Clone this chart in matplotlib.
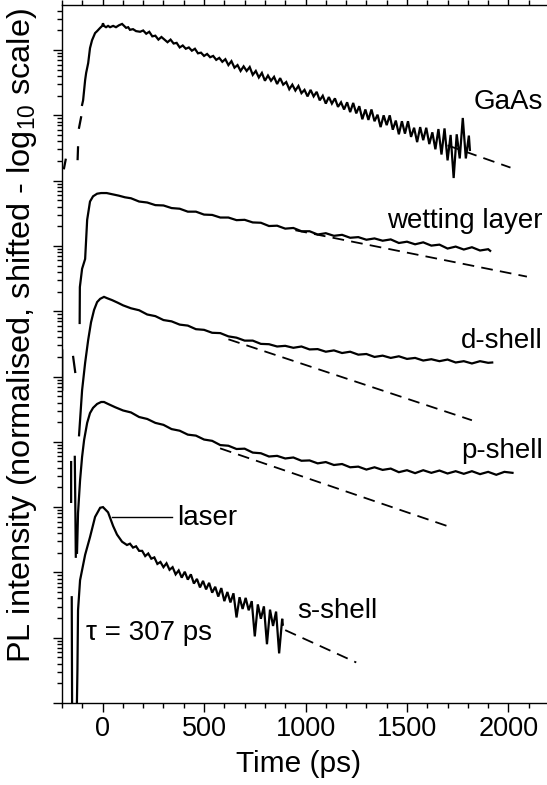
"""Time-resolved PL decay traces (GaAs, wetting layer, QD shells) on a shifted log scale."""

import numpy as np
import matplotlib

matplotlib.use("Agg")
import matplotlib.pyplot as plt
from matplotlib.ticker import LogLocator, MultipleLocator, NullFormatter

plt.rcParams["font.family"] = ["Liberation Sans", "DejaVu Sans"]
plt.rcParams["mathtext.fontset"] = "custom"
plt.rcParams["mathtext.rm"] = "Liberation Sans"
plt.rcParams["mathtext.default"] = "regular"

nan = np.nan

# ---- traces: time (ps) and log10 of shifted intensity; nan splits segments ----
gaas_t = [
    -190, -182, nan, -123, -121, nan, -116, -106, nan,
    -101, -96, -86, -81, -71, -62, -52, -37, -27, -12, -2, 2, 7, 17, 27, 37,
    52, 66, 81, 96, 106, 116, 126, 135, 150, 165, 185,
    200, 215, 230, 245, 260, 275, 290, 305, 320, 335, 350, 365, 380, 395,
    410, 425, 440, 455, 470, 485, 500, 515, 530, 545, 560, 575, 590,
    605, 620, 635, 650, 665, 680, 695, 710, 725, 740, 755, 770, 785, 800,
    815, 830, 845, 860, 875, 890, 905, 920, 935, 950, 965, 980, 995,
    1010, 1025, 1040, 1055, 1070, 1085, 1100, 1115, 1130, 1145, 1160,
    1175, 1190, 1205, 1220, 1235, 1250, 1265, 1280, 1295, 1310, 1325,
    1340, 1355, 1370, 1385, 1400, 1415, 1430, 1445, 1460, 1475, 1490,
    1505, 1520, 1535, 1550, 1565, 1580, 1595, 1610, 1625, 1640, 1655,
    1670, 1685, 1700, 1715, 1730, 1745, 1760, 1775, 1790, 1805, 1810,
]
gaas_log = [
    8.19, 8.32, nan, 8.33, 8.51, nan, 8.81, 8.97, nan,
    9.16, 9.23, 9.54, 9.65, 9.80, 10.03, 10.15, 10.26, 10.29, 10.34, 10.37,
    10.41, 10.37, 10.35, 10.37, 10.35, 10.37, 10.35, 10.38, 10.40, 10.37,
    10.34, 10.35, 10.31, 10.32, 10.29, 10.28,
    10.30, 10.25, 10.28, 10.21, 10.22, 10.16, 10.20, 10.16, 10.12, 10.16,
    10.10, 10.11, 10.04, 10.07, 10.02, 10.04, 9.99, 10.02, 9.95, 9.96,
    9.91, 9.94, 9.89, 9.91, 9.85, 9.88, 9.82,
    9.86, 9.77, 9.83, 9.73, 9.77, 9.68, 9.75, 9.68, 9.74, 9.62, 9.68, 9.58,
    9.65, 9.53, 9.61, 9.53, 9.59, 9.48, 9.57, 9.47, 9.51, 9.40, 9.47, 9.38,
    9.45, 9.34, 9.39, 9.29, 9.39, 9.29, 9.36, 9.23, 9.30, 9.18, 9.28, 9.18,
    9.26, 9.13, 9.20, 9.09,
    9.20, 9.05, 9.19, 9.03, 9.14, 8.94, 9.09, 8.93, 9.09, 8.91, 9.01, 8.82,
    9.00, 8.85, 9.00, 8.78, 8.92, 8.71, 8.91, 8.72, 8.91, 8.67, 8.81, 8.59,
    8.82, 8.62, 8.81, 8.56, 8.74, 8.48,
    8.79, 8.40, 8.80, 8.31, 8.70, 8.04, 8.71, 8.34, 8.96, 8.34, 8.69, 8.47,
]

wetting_t = [
    -113, -112, -101, -86, -76, -62, -47, -27, -7, 20, 50, 80, 110,
    140, 180, 220, 260, 300, 340, 380, 420, 460, 500, 540, 580, 620, 660,
    700, 740, 780, 820, 860, 900, 940, 980, 1020, 1060, 1100, 1140, 1180,
    1220, 1260, 1300, 1340, 1380, 1420, 1460, 1500, 1540, 1580, 1620,
    1660, 1700, 1740, 1780, 1820, 1860, 1900, 1910,
]
wetting_log = [
    5.82, 6.37, 6.65, 6.80, 7.40, 7.68, 7.76, 7.80, 7.81, 7.81, 7.79, 7.77,
    7.745,
    7.730, 7.680, 7.665, 7.625, 7.620, 7.580, 7.570, 7.525, 7.525, 7.480,
    7.475, 7.435, 7.435, 7.395, 7.400, 7.360, 7.355, 7.305, 7.310, 7.265,
    7.275, 7.225, 7.225, 7.175, 7.195, 7.155, 7.170, 7.125, 7.135, 7.095,
    7.115, 7.080, 7.100, 7.045, 7.065, 7.025, 7.055, 7.005, 7.020, 6.960,
    6.990, 6.945, 6.980, 6.930, 6.950, 6.925,
]

dshell_t = [
    -199, -199, nan, -145, -135, nan,
    -116, -111, -101, -86, -71, -57, -42, -27, -12, 7, 22, 47, 75, 101,
    140, 180, 220, 260, 300, 340, 380, 420, 460, 500, 540, 580, 620, 660,
    700, 740, 780, 820, 860, 900, 940, 980, 1020, 1060, 1100, 1140, 1180,
    1220, 1260, 1300, 1340, 1380, 1420, 1460, 1500, 1540, 1580, 1620,
    1660, 1700, 1740, 1780, 1820, 1860, 1900, 1920,
]
dshell_log = [
    5.40, 4.80, nan, 5.30, 5.07, nan,
    4.10, 4.33, 4.79, 5.21, 5.56, 5.83, 6.02, 6.14, 6.19, 6.22, 6.20, 6.17,
    6.13, 6.09,
    6.045, 6.015, 5.950, 5.925, 5.865, 5.845, 5.795, 5.780, 5.725, 5.715,
    5.670, 5.665, 5.615, 5.595, 5.550, 5.550, 5.500, 5.495, 5.460, 5.470,
    5.440, 5.460, 5.415, 5.420, 5.380, 5.400, 5.360, 5.380, 5.335, 5.345,
    5.300, 5.320, 5.285, 5.310, 5.270, 5.285, 5.245, 5.265, 5.235, 5.260,
    5.215, 5.235, 5.200, 5.235, 5.210, 5.215,
]

pshell_t = [
    -155, -155, nan, -137, -134, -132, nan,
    -126, -121, -111, -101, -91, -76, -62, -47, -27, -7, 7, 27, 62, 101,
    140, 180, 220, 260, 300, 340, 380, 420, 460, 500, 540, 580, 620, 660,
    700, 740, 780, 820, 860, 900, 940, 980, 1020, 1060, 1100, 1140, 1180,
    1220, 1260, 1300, 1340, 1380, 1420, 1460, 1500, 1540, 1580, 1620,
    1660, 1700, 1740, 1780, 1820, 1860, 1900, 1940, 1980, 2020,
]
pshell_log = [
    3.69, 3.08, nan, 3.77, 2.90, 2.24, nan,
    2.30, 2.91, 3.41, 3.77, 4.03, 4.29, 4.44, 4.52, 4.58, 4.61, 4.61, 4.58,
    4.53, 4.48,
    4.450, 4.380, 4.350, 4.290, 4.260, 4.195, 4.170, 4.110, 4.095, 4.035,
    4.015, 3.950, 3.940, 3.890, 3.895, 3.835, 3.825, 3.775, 3.785, 3.745,
    3.760, 3.710, 3.715, 3.670, 3.690, 3.645, 3.660, 3.610, 3.620, 3.575,
    3.610, 3.570, 3.590, 3.535, 3.565, 3.520, 3.565, 3.525, 3.560, 3.515,
    3.550, 3.510, 3.550, 3.505, 3.540, 3.495, 3.540, 3.525,
]

sshell_t = [
    -152, -150, nan,
    -128, -124, -121, -111, -86, -62, -37, -12, 2, 27, 52, 71, 96, 120,
    135, 150, 165, 180, 195, 210, 225, 240, 255, 270, 285, 300, 315, 330,
    345, 360, 375, 390, 405, 420, 435, 450, 465, 480, 495, 510, 525, 540,
    555, 570, 585, 600, 615, 630, 645, 660, 675, 690, 705, 720, 735, 750,
    765, 780, 795, 810, 825, 840, 855, 870, 885, 888,
]
sshell_log = [
    1.62, -0.30, nan,
    -0.30, 0.50, 1.42, 1.88, 2.27, 2.54, 2.85, 2.99, 3.00, 2.92, 2.71, 2.58,
    2.47, 2.42,
    2.44, 2.38, 2.40, 2.33, 2.33, 2.25, 2.29, 2.21, 2.23, 2.13, 2.16, 2.08,
    2.14, 2.04, 2.08, 1.97, 2.03, 1.92, 2.01, 1.89, 1.97, 1.83, 1.90, 1.77,
    1.87, 1.74, 1.84, 1.69, 1.78, 1.63, 1.76, 1.56, 1.70, 1.54, 1.68, 1.31,
    1.62, 1.44, 1.61, 1.42, 1.56, 1.02, 1.51, 1.29, 1.48, 0.90, 1.43, 1.18,
    1.40, 0.76, 1.29, 1.20,
]

# ---- single-exponential fits (dashed): end points in time (ps) and log10 ----
gaas_fit_t, gaas_fit_log = [1700, 2010], [8.54, 8.20]
wetting_fit_t, wetting_fit_log = [950, 2091], [7.24, 6.53]
dshell_fit_t, dshell_fit_log = [620, 1820], [5.57, 4.33]
pshell_fit_t, pshell_fit_log = [579, 1727], [3.90, 2.68]
sshell_tau = 307.0          # ps, quoted on the plot
sshell_amp = 245.0          # fit amplitude at t = 0
sshell_fit_t = np.array([900.0, 1250.0])

traces = [
    (gaas_t, gaas_log),
    (wetting_t, wetting_log),
    (dshell_t, dshell_log),
    (pshell_t, pshell_log),
    (sshell_t, sshell_log),
]
fits = [
    (gaas_fit_t, gaas_fit_log),
    (wetting_fit_t, wetting_fit_log),
    (dshell_fit_t, dshell_fit_log),
    (pshell_fit_t, pshell_fit_log),
]

fig = plt.figure(figsize=(5.47, 7.85), dpi=100)
ax = fig.add_axes([62 / 547, 82 / 785, 485 / 547, 698 / 785])

dash_kw = dict(color="black", lw=1.3, dashes=(6.5, 4.0))
for ft, fl in fits:
    ax.plot(ft, 10.0 ** np.asarray(fl), **dash_kw)
ax.plot(sshell_fit_t, sshell_amp * np.exp(-sshell_fit_t / sshell_tau), **dash_kw)

for t, lg in traces:
    ax.plot(t, 10.0 ** np.asarray(lg, dtype=float), color="black", lw=1.6,
            solid_joinstyle="miter")

ax.set_yscale("log")
ax.set_xlim(-200, 2190)
ax.set_ylim(1.0, 10.0 ** 10.69)

ax.xaxis.set_major_locator(MultipleLocator(500))
ax.xaxis.set_minor_locator(MultipleLocator(100))
ax.yaxis.set_major_locator(LogLocator(base=10, numticks=30))
ax.yaxis.set_minor_locator(LogLocator(base=10, subs=np.arange(2, 10), numticks=300))
ax.yaxis.set_major_formatter(NullFormatter())
ax.yaxis.set_minor_formatter(NullFormatter())

ax.spines["right"].set_visible(False)
for side in ("left", "top", "bottom"):
    ax.spines[side].set_linewidth(1.0)
ax.tick_params(which="both", direction="out", top=True, right=False, width=1.0)
ax.tick_params(which="major", length=6.5)
ax.tick_params(which="minor", length=3.6)
ax.tick_params(axis="x", labelsize=19.5, pad=3, labeltop=False)

ax.set_xlabel("Time (ps)", fontsize=21.5)
ax.xaxis.set_label_coords(0.487, -0.068)
ax.set_ylabel("PL intensity (normalised, shifted - log$_{10}$ scale)", fontsize=23.4)
ax.yaxis.set_label_coords(-0.047, 0.526)

# curve labels
lab = dict(fontsize=20, va="baseline")
ax.text(2170, 10 ** 9.10, "GaAs", ha="right", **lab)
ax.text(2170, 10 ** 7.27, "wetting layer", ha="right", **lab)
ax.text(2170, 10 ** 5.44, "d-shell", ha="right", **lab)
ax.text(2170, 10 ** 3.75, "p-shell", ha="right", **lab)
ax.text(958, 10 ** 1.30, "s-shell", ha="left", **lab)
ax.text(-81, 10 ** 0.965, "\u03c4 = 307 ps", ha="left", **lab)
ax.text(367, 10 ** 2.73, "laser", ha="left", **lab)
ax.plot([47, 342], [10 ** 2.85, 10 ** 2.85], color="black", lw=1.0)

fig.savefig("out.png", dpi=100)
